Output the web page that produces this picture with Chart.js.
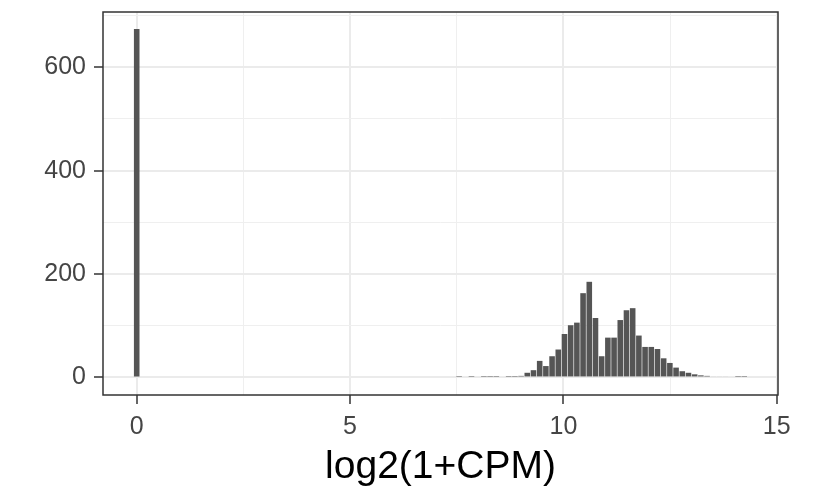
<!DOCTYPE html>
<html>
<head>
<meta charset="utf-8">
<script src="https://cdn.jsdelivr.net/npm/chart.js@4"></script>
<style>
  body { margin: 0; background: #fff; }
  #wrap { width: 821px; height: 497px; position: relative; }
</style>
</head>
<body>
<div id="wrap"><canvas id="chart"></canvas></div>
<script>
// histogram of log2(1+CPM), 99 bins starting at 0
const binWidth = 0.1453;
const counts = [
  674, 0, 0, 0, 0, 0, 0, 0, 0, 0,
  0, 0, 0, 0, 0, 0, 0, 0, 0, 0,
  0, 0, 0, 0, 0, 0, 0, 0, 0, 0,
  0, 0, 0, 0, 0, 0, 0, 0, 0, 0,
  0, 0, 0, 0, 0, 0, 0, 0, 0, 0,
  0, 0, 1, 0, 1, 0, 1, 1, 1, 0,
  1, 1, 3, 9, 14, 32, 22, 41, 54, 84,
  101, 106, 163, 185, 115, 41, 77, 77, 111, 130,
  134, 81, 59, 59, 55, 37, 28, 19, 12, 9,
  6, 4, 3, 2, 2, 2, 0, 1, 1
];
const xTicks = [0, 5, 10, 15];
const yTicks = [0, 200, 400, 600];
const xTitle = "log2(1+CPM)";

const points = counts.map((c, i) => ({ x: i * binWidth, y: c }));

const isMajor = (v, list) => list.some(t => Math.abs(t - v) < 1e-6);

// panel border on all four sides
const borderBox = {
  id: "borderBox",
  afterDraw(chart) {
    const a = chart.chartArea;
    const ctx = chart.ctx;
    ctx.save();
    ctx.strokeStyle = "#333333";
    ctx.lineWidth = 1.5;
    ctx.strokeRect(a.left, a.top, a.right - a.left, a.bottom - a.top);
    ctx.restore();
  }
};

const tickFont = { family: "Liberation Sans", size: 25 };

new Chart(document.getElementById("chart"), {
  type: "bar",
  data: {
    datasets: [{
      data: points,
      backgroundColor: "#555555",
      borderWidth: 0,
      barPercentage: 0.9,
      categoryPercentage: 1
    }]
  },
  options: {
    responsive: true,
    maintainAspectRatio: false,
    animation: false,
    layout: { padding: { left: 0, right: 43, top: 12, bottom: 0 } },
    plugins: { legend: { display: false }, tooltip: { enabled: false } },
    scales: {
      x: {
        type: "linear",
        min: -0.79,
        max: 15.03,
        offset: false,
        afterFit: s => { s.height = 102; s.paddingLeft = 0; s.paddingRight = 0; },
        border: { display: false },
        grid: {
          offset: false,
          color: ctx => isMajor(ctx.tick.value, xTicks) ? "#ebebeb" : "#efefef",
          lineWidth: ctx => isMajor(ctx.tick.value, xTicks) ? 2 : 1,
          tickColor: ctx => isMajor(ctx.tick.value, xTicks) ? "#333333" : "rgba(0,0,0,0)",
          tickWidth: 1.5,
          tickLength: 9
        },
        ticks: {
          stepSize: 2.5,
          includeBounds: false,
          maxRotation: 0,
          autoSkip: false,
          padding: 8,
          color: "#454545",
          font: tickFont,
          callback: v => isMajor(v, xTicks) ? String(v) : ""
        },
        title: {
          display: true,
          text: xTitle,
          color: "#000000",
          font: { family: "Liberation Sans", size: 39 },
          padding: { top: 0, bottom: 6 }
        }
      },
      y: {
        min: -34,
        max: 707,
        afterFit: s => { s.width = 103; s.paddingTop = 0; s.paddingBottom = 0; },
        border: { display: false },
        grid: {
          color: ctx => isMajor(ctx.tick.value, yTicks) ? "#ebebeb" : "#efefef",
          lineWidth: ctx => isMajor(ctx.tick.value, yTicks) ? 2 : 1,
          tickColor: ctx => isMajor(ctx.tick.value, yTicks) ? "#333333" : "rgba(0,0,0,0)",
          tickWidth: 1.5,
          tickLength: 9
        },
        ticks: {
          stepSize: 100,
          includeBounds: false,
          autoSkip: false,
          padding: 8,
          color: "#454545",
          font: tickFont,
          callback: v => isMajor(v, yTicks) ? String(v) : ""
        }
      }
    }
  },
  plugins: [borderBox]
});
</script>
</body>
</html>
